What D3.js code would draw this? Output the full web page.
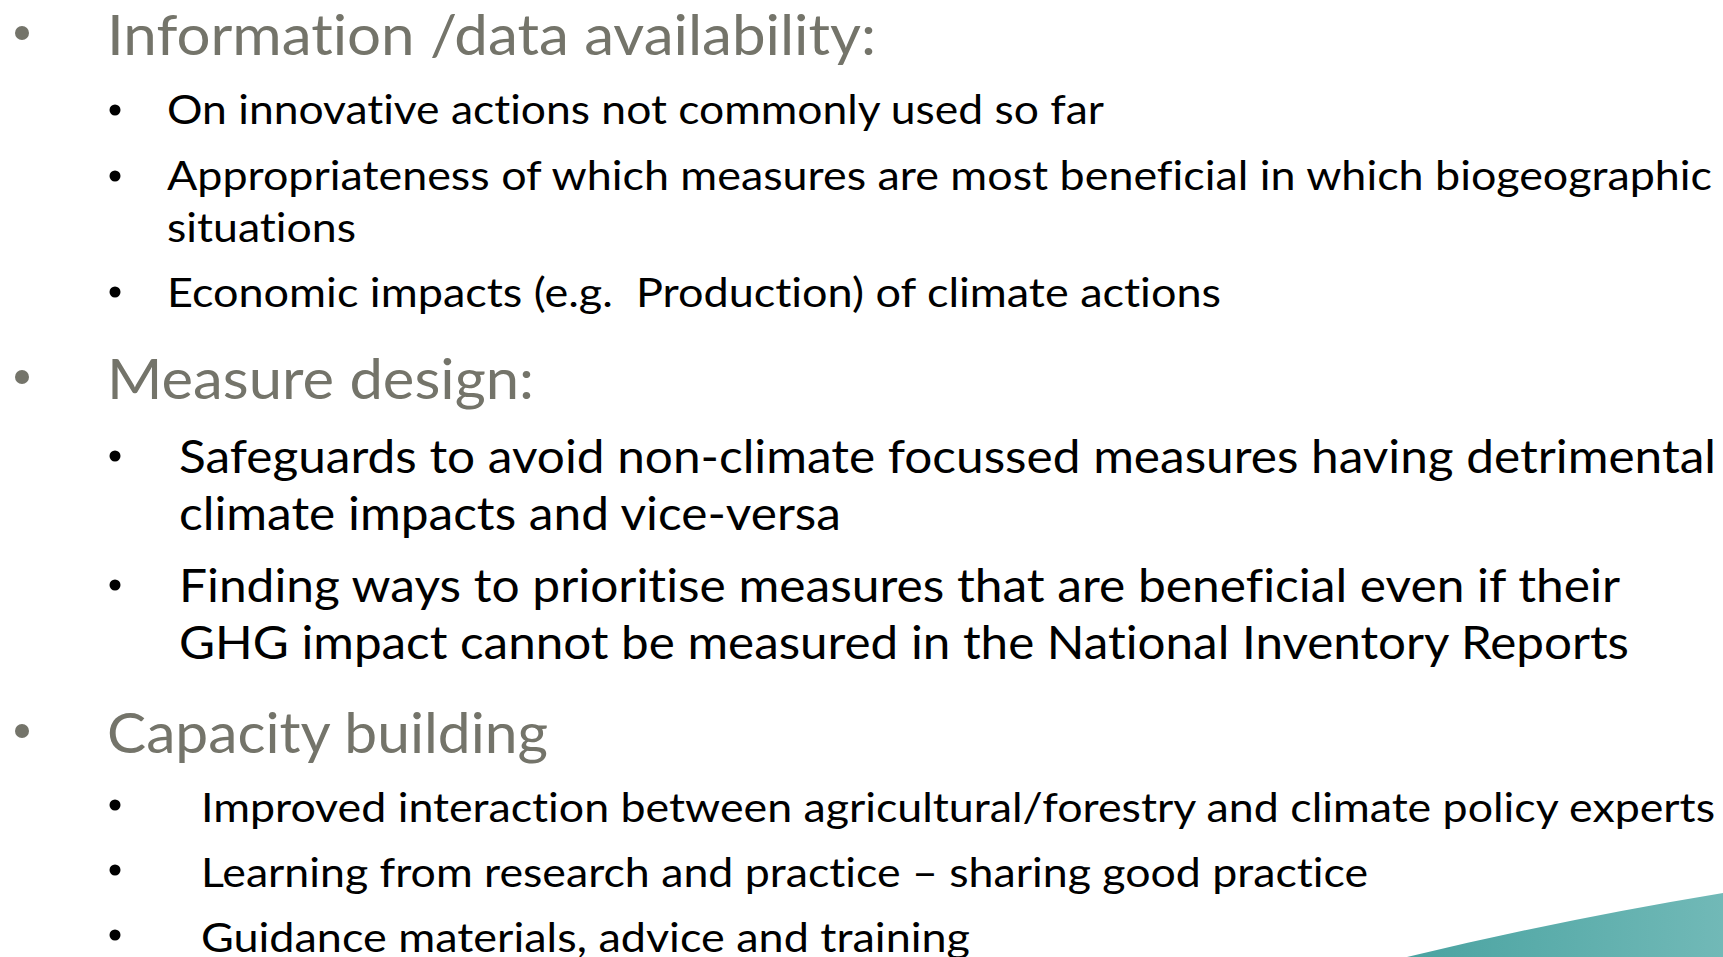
<!DOCTYPE html>
<html>
<head>
<meta charset="utf-8">
<script src="https://cdn.jsdelivr.net/npm/d3@7"></script>
<style>
  html, body { margin: 0; padding: 0; background: #ffffff; overflow: hidden; }
  svg text { white-space: pre; font-variant-ligatures: none; font-feature-settings: "liga" 0, "clig" 0; }
</style>
</head>
<body>
<svg id="slide" width="1723" height="957"></svg>
<script>
// ---- Content (text) ----
const headings = [
  "Information /data availability:",
  "Measure design:",
  "Capacity building"
];
const section1Lines = [
  "On innovative actions not commonly used so far",
  "Appropriateness of which measures are most beneficial in which biogeographic",
  "situations",
  "Economic impacts (e.g.  Production) of climate actions"
];
const section2Lines = [
  "Safeguards to avoid non-climate focussed measures having detrimental",
  "climate impacts and vice-versa",
  "Finding ways to prioritise measures that are beneficial even if their",
  "GHG impact cannot be measured in the National Inventory Reports"
];
const section3Lines = [
  "Improved interaction between agricultural/forestry and climate policy experts",
  "Learning from research and practice \u2013 sharing good practice",
  "Guidance materials, advice and training"
];
// which lines start a new bullet (others are wrapped continuations)
const section1Bullets = [true, true, false, true];
const section2Bullets = [true, false, true, false];
const section3Bullets = [true, true, true];

// ---- Layout (positions / sizes / styles) ----
const W = 1723, H = 957;
const svg = d3.select("#slide");

const headingLayout = [
  {x: 107, base: 55, end: 876, by: 33},
  {x: 107, base: 399, end: 534, by: 377},
  {x: 107, base: 753, end: 548, by: 731}
];
const s1Layout = [
  {base: 124, end: 1104, by: 110},
  {base: 190, end: 1712, by: 176},
  {base: 242, end: 356},
  {base: 307, end: 1221, by: 292}
];
const s2Layout = [
  {base: 473, end: 1716, by: 456},
  {base: 530, end: 841},
  {base: 602, end: 1620, by: 585},
  {base: 659, end: 1629}
];
const s3Layout = [
  {base: 822, end: 1715, by: 805},
  {base: 887, end: 1368, by: 870},
  {base: 952, end: 970, by: 935}
];
const sections = [
  {lines: section1Lines, bullets: section1Bullets, layout: s1Layout, x: 167, size: 40},
  {lines: section2Lines, bullets: section2Bullets, layout: s2Layout, x: 179, size: 46},
  {lines: section3Lines, bullets: section3Bullets, layout: s3Layout, x: 201, size: 40}
];

const GRAY = "#74746a";
const FONT = "Lato, 'Open Sans', sans-serif";

// teal swoosh bottom right
const defs = svg.append("defs");
const grad = defs.append("linearGradient").attr("id", "teal")
  .attr("x1", "0%").attr("x2", "100%").attr("y1", "0%").attr("y2", "0%");
grad.append("stop").attr("offset", "0%").attr("stop-color", "#4aa3a1");
grad.append("stop").attr("offset", "100%").attr("stop-color", "#71b9b7");
const swoosh = d3.path();
swoosh.moveTo(1407, H);
swoosh.quadraticCurveTo(1560, 920, W, 893);
swoosh.lineTo(W, H);
swoosh.closePath();
svg.append("path").attr("d", swoosh.toString()).attr("fill", "url(#teal)");

// headings
const hd = headings.map((t, i) => ({text: t, ...headingLayout[i]}));
svg.append("g").selectAll("circle").data(hd).join("circle")
  .attr("cx", 22).attr("cy", d => d.by).attr("r", 7).attr("fill", GRAY);
svg.append("g").selectAll("text").data(hd).join("text")
  .attr("x", d => d.x).attr("y", d => d.base)
  .attr("font-family", FONT).attr("font-size", 56).attr("fill", GRAY)
  .attr("textLength", d => d.end - d.x).attr("lengthAdjust", "spacingAndGlyphs")
  .text(d => d.text);

// sub-items
sections.forEach(sec => {
  const rows = sec.lines.map((t, i) => ({text: t, bullet: sec.bullets[i], ...sec.layout[i]}));
  const g = svg.append("g");
  g.selectAll("circle").data(rows.filter(r => r.bullet)).join("circle")
    .attr("cx", 115).attr("cy", d => d.by).attr("r", 5.5).attr("fill", "#000");
  g.selectAll("text").data(rows).join("text")
    .attr("x", sec.x).attr("y", d => d.base)
    .attr("font-family", FONT).attr("font-size", sec.size).attr("fill", "#000")
    .attr("textLength", d => d.end - sec.x).attr("lengthAdjust", "spacingAndGlyphs")
    .text(d => d.text);
});
</script>
</body>
</html>
